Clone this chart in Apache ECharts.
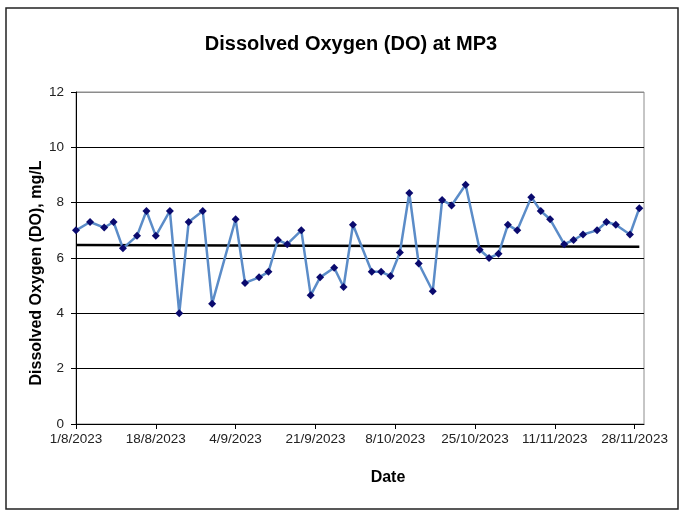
<!DOCTYPE html>
<html>
<head>
<meta charset="utf-8">
<script src="https://cdn.jsdelivr.net/npm/echarts@6/dist/echarts.min.js"></script>
<style>
  html, body { margin: 0; padding: 0; background: #fff; }
  #chart { width: 684px; height: 512px; }
</style>
</head>
<body>
<div id="chart"></div>
<script>
// sampling dates (MP3) and measured DO, mg/L
var sampleDates = [
  '2023-08-01', '2023-08-04', '2023-08-07', '2023-08-09', '2023-08-11', '2023-08-14',
  '2023-08-16', '2023-08-18', '2023-08-21', '2023-08-23', '2023-08-25', '2023-08-28',
  '2023-08-30', '2023-09-04', '2023-09-06', '2023-09-09', '2023-09-11', '2023-09-13',
  '2023-09-15', '2023-09-18', '2023-09-20', '2023-09-22', '2023-09-25', '2023-09-27',
  '2023-09-29', '2023-10-03', '2023-10-05', '2023-10-07', '2023-10-09', '2023-10-11',
  '2023-10-13', '2023-10-16', '2023-10-18', '2023-10-20', '2023-10-23', '2023-10-26',
  '2023-10-28', '2023-10-30', '2023-11-01', '2023-11-03', '2023-11-06', '2023-11-08',
  '2023-11-10', '2023-11-13', '2023-11-15', '2023-11-17', '2023-11-20', '2023-11-22',
  '2023-11-24', '2023-11-27', '2023-11-29'
]
var doValues = [
  7.0, 7.3, 7.1, 7.3, 6.35, 6.8,
  7.7, 6.8, 7.7, 4.0, 7.3, 7.7,
  4.35, 7.4, 5.1, 5.3, 5.5, 6.65,
  6.5, 7.0, 4.65, 5.3, 5.65, 4.95,
  7.2, 5.5, 5.5, 5.35, 6.2, 8.35,
  5.8, 4.8, 8.1, 7.9, 8.65, 6.3,
  6.0, 6.15, 7.2, 7.0, 8.2, 7.7,
  7.4, 6.5, 6.65, 6.85, 7.0, 7.3,
  7.2, 6.85, 7.8
]
// linear trend line end points
var trendDates = ['2023-08-01', '2023-11-29']
var trendValues = [6.47, 6.41]
// axis
var axisStart = '2023-08-01'
var axisEnd = '2023-11-30'
var tickStepDays = 17
var yTicks = [0, 2, 4, 6, 8, 10, 12]

function dayOf (iso) {
  var p = iso.split('-')
  var a = Date.UTC(+p[0], +p[1] - 1, +p[2])
  var s = axisStart.split('-')
  var b = Date.UTC(+s[0], +s[1] - 1, +s[2])
  return Math.round((a - b) / 86400000)
}
function labelOf (day) {
  var s = axisStart.split('-')
  var d = new Date(Date.UTC(+s[0], +s[1] - 1, +s[2]) + day * 86400000)
  return d.getUTCDate() + '/' + (d.getUTCMonth() + 1) + '/' + d.getUTCFullYear()
}

var doData = sampleDates.map(function (d, i) { return [dayOf(d), doValues[i]] })
var trendData = trendDates.map(function (d, i) { return [dayOf(d), trendValues[i]] })

var chart = echarts.init(document.getElementById('chart'))
var font = '"Liberation Sans", Arial, sans-serif'

var option = {
  backgroundColor: '#fff',
  animation: false,
  textStyle: { fontFamily: font },
  title: {
    text: 'Dissolved Oxygen (DO) at MP3',
    left: 346,
    top: 29,
    textAlign: 'center',
    textStyle: { fontSize: 20, fontWeight: 'bold', color: '#000', fontFamily: font }
  },
  grid: {
    left: 76,
    right: 40,
    top: 92,
    bottom: 88,
    show: true,
    borderColor: '#8c8c8c',
    borderWidth: 1
  },
  xAxis: {
    type: 'value',
    min: 0,
    max: dayOf(axisEnd),
    interval: tickStepDays,
    axisLine: { show: true, onZero: false, lineStyle: { color: '#000', width: 1 } },
    axisTick: { show: true, inside: false, length: 5, lineStyle: { color: '#000' } },
    splitLine: { show: false },
    axisLabel: {
      color: '#222',
      fontSize: 13.5,
      margin: 8,
      showMaxLabel: false,
      formatter: function (v) { return labelOf(v) }
    }
  },
  yAxis: {
    type: 'value',
    min: yTicks[0],
    max: yTicks[yTicks.length - 1],
    interval: 2,
    axisLine: { show: true, lineStyle: { color: '#000', width: 1 } },
    axisTick: { show: true, inside: false, length: 5, lineStyle: { color: '#000' } },
    splitLine: {
      show: true,
      lineStyle: { color: ['#000', '#000', '#000', '#000', '#000', '#000', '#8c8c8c'], width: 1.2 }
    },
    axisLabel: { color: '#222', fontSize: 13.5, margin: 12 }
  },
  graphic: [
    {
      type: 'rect',
      shape: { x: 6, y: 8, width: 672, height: 501 },
      style: { fill: 'none', stroke: '#222', lineWidth: 1.5 },
      silent: true
    },
    {
      type: 'text',
      x: 37,
      y: 273,
      rotation: Math.PI / 2,
      style: {
        text: 'Dissolved Oxygen (DO), mg/L',
        font: 'bold 16px ' + font,
        fill: '#000',
        textAlign: 'center',
        textVerticalAlign: 'middle'
      }
    },
    {
      type: 'text',
      x: 388,
      y: 478,
      style: {
        text: 'Date',
        font: 'bold 16px ' + font,
        fill: '#000',
        textAlign: 'center',
        textVerticalAlign: 'middle'
      }
    }
  ],
  series: [
    {
      name: 'DO',
      type: 'line',
      data: doData,
      symbol: 'diamond',
      symbolSize: 8,
      z: 3,
      lineStyle: { color: '#5b8cc8', width: 2.5 },
      itemStyle: { color: '#0a0a6e', borderWidth: 0 }
    },
    {
      name: 'Trend',
      type: 'line',
      data: trendData,
      symbol: 'none',
      z: 2,
      lineStyle: { color: '#000', width: 2.5 }
    }
  ]
}
chart.setOption(option)
</script>
</body>
</html>
